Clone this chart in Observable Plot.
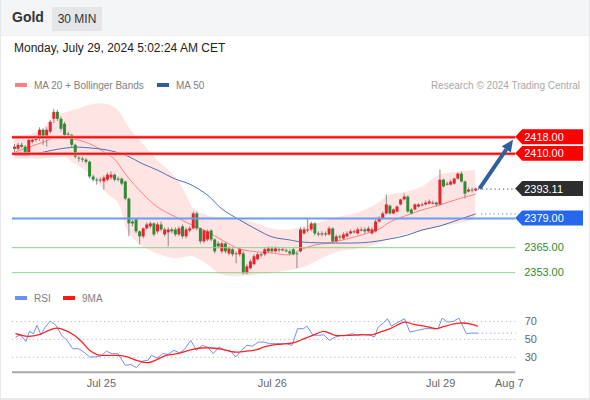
<!DOCTYPE html>
<html>
<head>
<meta charset="utf-8">
<script src="https://cdn.jsdelivr.net/npm/d3@7"></script>
<script src="https://cdn.jsdelivr.net/npm/@observablehq/plot@0.6"></script>
<style>
  html, body { margin: 0; padding: 0; background: #fff; }
  body { font-family: "Liberation Sans", Arial, sans-serif; }
  #wrap { position: relative; width: 590px; height: 400px; overflow: hidden; background: #fff; box-sizing: border-box; border-left: 1px solid #e8e8e8; border-right: 1px solid #e8e8e8; border-bottom: 2px solid #e8e8e8; }
  #header { position: absolute; left: 0; top: 0; width: 590px; height: 35px; background: #f4f5f6; border-bottom: 1px solid #eceeef; }
  #title { position: absolute; left: 11px; top: 9px; font-size: 14px; font-weight: bold; color: #333; }
  #period { position: absolute; left: 51px; top: 7px; width: 50px; height: 24px; background: #e4e6e8; color: #333; font-size: 12px; line-height: 24px; text-align: center; }
  #date { position: absolute; left: 13px; top: 41px; font-size: 12px; color: #222; }
  .legend { position: absolute; font-size: 10px; color: #808080; white-space: nowrap; }
  .sw { display: inline-block; width: 12px; height: 4px; vertical-align: middle; margin-right: 7px; position: relative; top: -1px; }
  #research { position: absolute; right: 9px; top: 80px; font-size: 10px; color: #a8a8a8; }
  #main { position: absolute; left: 0; top: 95px; }
  #rsi { position: absolute; left: 0; top: 310px; }
</style>
</head>
<body>
<div id="wrap">
  <div id="header"></div>
  <div id="title">Gold</div>
  <div id="period">30 MIN</div>
  <div id="date">Monday, July 29, 2024 5:02:24 AM CET</div>
  <div class="legend" style="left:14px; top:80px;"><span class="sw" style="background:#ff7f7f"></span>MA 20 + Bollinger Bands</div>
  <div class="legend" style="left:156px; top:80px;"><span class="sw" style="background:#2f5d9e"></span>MA 50</div>
  <div id="research">Research © 2024 Trading Central</div>
  <div id="main"></div>
  <div class="legend" style="left:14px; top:293px;"><span class="sw" style="background:#6f8ff0"></span>RSI</div>
  <div class="legend" style="left:62px; top:293px;"><span class="sw" style="background:#ff1a1a"></span>9MA</div>
  <div id="rsi"></div>
</div>
<script>
// ---- Candles (30-minute bars), index 0..129 ----
const candleOpen = [
2412.2,2412.2,2414.1,2413.2,2409.8,2415.6,2416.5,2417.0,2421.3,2417.5,
2420.4,2426.6,2429.9,2426.6,2424.2,2419.4,2418.9,2414.1,2407.9,2407.5,
2407.0,2406.0,2398.9,2397.4,2397.0,2396.5,2397.4,2398.4,2399.8,2397.9,
2397.9,2396.5,2388.3,2377.3,2378.3,2372.6,2370.2,2374.0,2375.0,2376.4,
2372.6,2375.9,2371.1,2372.1,2373.5,2373.5,2371.1,2375.0,2370.2,2373.0,
2374.0,2381.2,2374.0,2367.8,2368.7,2373.0,2368.7,2366.8,2363.0,2366.8,
2362.0,2364.0,2361.6,2361.6,2362.0,2352.5,2354.9,2356.8,2359.2,2361.6,
2361.6,2363.0,2364.4,2363.0,2364.0,2363.5,2363.5,2363.0,2364.0,2362.0,
2363.0,2371.6,2373.0,2373.5,2376.4,2371.6,2371.1,2371.6,2371.1,2374.0,
2367.8,2370.2,2369.2,2370.2,2371.6,2372.1,2371.6,2373.0,2373.5,2372.6,
2371.6,2372.6,2377.3,2378.8,2381.2,2384.9,2381.2,2382.1,2385.5,2387.9,
2389.3,2383.1,2383.1,2384.5,2385.0,2385.5,2385.9,2385.9,2386.4,2385.5,
2397.4,2395.0,2395.0,2395.5,2397.9,2400.3,2396.5,2391.7,2392.6,2392.2];
const candleHigh = [
2414.5,2415.0,2415.2,2414.0,2417.5,2418.0,2418.5,2422.5,2422.0,2422.5,
2426.0,2431.4,2430.9,2427.5,2425.1,2420.4,2419.4,2414.6,2408.9,2408.4,
2407.9,2406.5,2399.8,2398.4,2398.4,2399.4,2400.8,2401.3,2400.3,2398.9,
2398.4,2397.0,2388.8,2378.3,2378.8,2373.0,2374.5,2376.9,2377.3,2376.9,
2376.9,2377.3,2374.5,2374.5,2374.5,2374.5,2375.0,2375.9,2374.5,2375.0,
2382.1,2382.1,2374.5,2373.5,2373.5,2373.5,2369.2,2367.8,2367.8,2367.3,
2365.4,2364.9,2363.0,2364.9,2363.0,2356.8,2359.2,2361.6,2362.5,2362.5,
2364.9,2365.4,2365.4,2365.4,2364.9,2364.9,2364.4,2364.0,2364.9,2363.0,
2374.5,2374.5,2378.8,2377.3,2376.9,2372.6,2372.6,2372.6,2375.0,2374.5,
2371.1,2371.1,2372.1,2372.6,2373.5,2373.5,2374.5,2374.5,2374.5,2375.0,
2374.5,2378.3,2379.8,2382.1,2390.2,2385.5,2383.6,2385.0,2388.3,2390.7,
2389.8,2383.6,2386.0,2386.0,2386.4,2387.4,2387.9,2387.4,2386.9,2402.2,
2397.9,2396.5,2397.4,2398.4,2400.8,2401.3,2397.0,2393.6,2393.6,2393.6];
const candleLow = [
2410.8,2411.5,2412.5,2409.0,2409.3,2414.8,2415.5,2416.0,2414.0,2413.2,
2419.5,2424.5,2425.5,2420.5,2418.0,2417.5,2413.0,2407.5,2406.0,2405.8,
2405.1,2398.0,2396.5,2395.0,2396.0,2392.6,2396.5,2397.4,2396.5,2396.5,
2394.6,2387.5,2370.2,2375.0,2371.6,2366.3,2369.2,2373.5,2374.0,2370.2,
2371.6,2372.6,2370.2,2365.4,2371.6,2370.2,2370.2,2369.2,2369.2,2372.1,
2373.5,2373.0,2366.8,2366.8,2367.8,2367.8,2362.0,2364.4,2362.0,2362.0,
2361.1,2360.6,2357.3,2360.6,2352.0,2352.0,2354.4,2356.3,2358.7,2360.1,
2360.6,2362.5,2362.5,2362.5,2362.5,2363.0,2362.5,2361.1,2361.1,2354.9,
2362.5,2371.1,2372.1,2372.6,2370.6,2370.2,2370.2,2370.2,2370.6,2366.8,
2367.3,2368.7,2368.7,2369.7,2371.1,2371.6,2371.1,2372.6,2371.6,2372.1,
2371.1,2372.1,2376.9,2378.3,2380.7,2380.7,2380.7,2381.6,2385.0,2387.4,
2381.6,2380.7,2382.6,2384.0,2384.5,2385.0,2385.5,2385.5,2384.5,2385.0,
2393.6,2394.6,2394.6,2395.0,2397.4,2396.0,2388.3,2391.2,2391.2,2391.7];
const candleClose = [
2413.2,2414.1,2413.2,2409.8,2416.5,2416.5,2417.0,2421.3,2417.5,2421.3,
2425.1,2429.9,2426.6,2421.8,2418.9,2418.9,2414.1,2408.4,2407.5,2407.0,
2406.0,2398.9,2397.4,2397.0,2397.4,2398.4,2399.8,2399.8,2397.4,2397.4,
2395.5,2388.3,2376.4,2376.4,2372.6,2370.2,2374.0,2375.9,2376.4,2371.1,
2375.9,2373.5,2373.5,2373.5,2372.6,2371.1,2374.0,2370.2,2373.5,2374.0,
2381.2,2374.0,2367.8,2373.0,2372.6,2368.7,2363.0,2365.4,2366.8,2363.0,
2364.4,2361.6,2362.0,2364.0,2352.5,2355.8,2358.2,2360.6,2361.6,2361.1,
2364.0,2364.4,2363.0,2364.4,2363.5,2364.0,2363.0,2362.0,2361.6,2361.6,
2373.5,2373.5,2373.5,2376.4,2371.6,2371.1,2371.6,2371.1,2374.0,2367.8,
2370.2,2369.7,2371.1,2371.6,2372.6,2372.6,2373.5,2373.5,2372.6,2374.0,
2373.5,2377.3,2378.8,2381.2,2385.5,2381.2,2383.1,2384.5,2387.9,2389.3,
2382.1,2381.2,2385.5,2385.5,2385.5,2386.4,2386.9,2386.4,2385.5,2397.4,
2394.1,2395.5,2396.5,2397.9,2400.3,2396.5,2390.7,2392.6,2392.2,2393.11];

// ---- MA 20 + Bollinger Bands (read at bar indices) ----
const bbIdx   = [0,4,8,11,14,17,22,26,29,32,36,40,45,48,50,54,58,63,68,72,77,81,86,91,96,101,105,110,114,119,124,129];
const bbUpper = [2416.5,2418.9,2421.8,2428.0,2429.5,2430.9,2433.7,2433.7,2430.9,2422.8,2414.6,2407.0,2398.9,2390.7,2384.0,2380.2,2379.3,2378.8,2376.4,2374.0,2373.5,2375.0,2377.3,2379.7,2381.5,2385.5,2390.2,2391.7,2394.1,2399.8,2401.2,2402.2];
const bbLower = [2407.5,2407.5,2407.5,2408.0,2408.4,2405.1,2398.9,2390.7,2386.5,2372.0,2365.4,2362.0,2359.7,2360.5,2360.6,2356.8,2352.0,2351.1,2352.0,2352.7,2354.0,2355.5,2359.7,2363.0,2364.4,2366.3,2369.2,2371.6,2372.6,2375.0,2376.4,2378.3];
const ma20Idx = [0,4,8,12,17,22,26,28,31,36,40,45,49,54,58,63,68,72,77,80,84,88,93,97,102,105,110,114,119,124,129];
const ma20Val = [2410.8,2413.2,2415.6,2418.0,2417.0,2414.1,2409.8,2407.5,2400.3,2390.7,2384.5,2379.8,2376.4,2372.6,2368.7,2364.4,2363.0,2362.5,2361.6,2364.0,2366.3,2367.3,2369.2,2371.1,2374.0,2377.3,2380.7,2383.1,2385.5,2388.3,2390.7];
// ---- MA 50 ----
const ma50Idx = [0,4,8,12,17,22,26,31,36,40,45,49,54,58,63,68,72,77,80,86,96,100,105,110,114,119,124,129];
const ma50Val = [2409.4,2409.4,2410.8,2412.2,2413.2,2412.7,2411.8,2409.4,2405.1,2402.2,2397.9,2395.5,2390.2,2383.6,2378.3,2373.5,2370.2,2368.7,2367.8,2367.3,2367.3,2367.8,2369.2,2371.1,2373.5,2375.4,2378.3,2381.2];

// ---- Key levels ----
const resistLevels = [2418.00, 2410.00];
const pivotLevel = 2379.00;
const supportLevels = [2365.00, 2353.00];
const lastPrice = 2393.11;
const targetPrice = 2418.00;

// ---- RSI panel ----
const rsiIdx = [0.4,1.6,3.2,4.2,5.3,6.3,7.4,8.4,10.0,11.6,13.2,14.7,16.3,17.9,19.4,21.0,22.6,24.2,25.7,27.3,28.9,31.0,32.5,34.1,35.7,37.3,38.3,39.9,41.5,43.0,44.6,46.2,47.7,49.3,50.9,52.5,54.0,55.6,57.2,58.8,60.3,61.9,63.5,65.0,66.6,68.2,69.8,71.3,72.9,74.5,76.1,77.6,79.2,80.8,81.8,83.4,85.0,86.5,88.1,89.7,91.3,92.8,94.4,96.0,97.5,99.1,100.7,101.7,103.3,104.3,105.4,107.0,109.1,110.6,112.7,114.8,116.9,118.5,119.6,121.1,122.7,124.3,126.4,127.9,129.5];
const rsiVal = [52.6,55.2,47.8,58.9,56.3,65.6,55.2,62.6,70.4,65.6,54.4,48.9,39.6,39.6,35.9,30.4,30.4,31.5,36.7,34.1,34.1,21.1,21.9,18.5,25.6,26.7,32.2,29.3,34.1,33.3,37.8,34.8,39.6,48.9,37.8,43.3,41.5,34.1,41.5,37.8,37.8,30.4,37.8,43.3,42.6,47.0,47.0,45.2,45.2,45.2,45.2,43.3,61.9,61.9,64.8,55.2,54.4,55.2,48.9,52.6,54.4,54.4,56.3,54.4,55.2,55.2,52.6,63.7,68.5,73.0,64.8,68.5,73.0,58.1,60.0,61.9,61.9,61.9,73.7,69.3,70.0,73.7,56.3,57.0,57.0];
const ma9Idx = [0.4,3.7,6.9,10.0,12.1,14.2,16.8,18.9,21.0,23.1,25.2,27.8,31.0,34.1,37.3,39.4,42.5,45.7,48.8,52.0,55.1,58.2,61.4,64.5,67.7,69.8,72.9,76.1,78.1,80.3,83.4,86.5,89.7,92.8,97.0,100.2,102.2,105.4,109.1,111.7,115.9,118.0,120.1,124.3,127.4,129.5];
const ma9Val = [56.3,53.3,55.2,60.7,62.6,60.0,54.4,47.0,37.8,33.0,32.2,32.2,31.1,26.7,24.1,26.7,32.2,34.1,37.8,40.4,40.4,38.9,35.9,36.7,38.5,41.5,44.1,45.2,46.3,49.6,54.4,58.9,54.4,54.4,55.2,55.2,58.1,62.6,69.3,66.7,63.7,61.9,64.4,68.1,67.4,64.8];
const rsiGrid = [30, 50, 70];

// ---- Time axis ----
const tickIdx = [24.3, 72.1, 119.2, 138.4];
const tickLabels = ["Jul 25", "Jul 26", "Jul 29", "Aug 7"];
const xDomain = [-0.56, 140.2];

// ---- Build tables ----
const candles = candleOpen.map((o, i) => ({i, o, h: candleHigh[i], l: candleLow[i], c: candleClose[i]}));
const bb = bbIdx.map((i, k) => ({i, up: bbUpper[k], lo: bbLower[k]}));
const ma20 = ma20Idx.map((i, k) => ({i, v: ma20Val[k]}));
const ma50 = ma50Idx.map((i, k) => ({i, v: ma50Val[k]}));
const rsi = rsiIdx.map((i, k) => ({i, v: rsiVal[k]}));
const ma9 = ma9Idx.map((i, k) => ({i, v: ma9Val[k]}));
const lastIdx = candles.length - 1;
const lastMa50 = ma50Val[ma50Val.length - 1];
const lastRsi = rsiVal[rsiVal.length - 1];

const RED = "#e8232a", GREEN = "#2f8a35";
const FONT = "Liberation Sans, Arial, sans-serif";

const main = Plot.plot({
  width: 590, height: 185,
  marginLeft: 11, marginRight: 74, marginTop: 0, marginBottom: 3,
  x: {domain: xDomain, axis: null},
  y: {domain: [2351.0, 2438.0], axis: null},
  marks: [
    Plot.areaY(bb, {x: "i", y1: "lo", y2: "up", fill: "#ffd9d9", fillOpacity: 0.7, curve: "catmull-rom"}),
    Plot.line(ma20, {x: "i", y: "v", stroke: "#ff8080", strokeWidth: 1, curve: "catmull-rom"}),
    Plot.line(ma50, {x: "i", y: "v", stroke: "#4a6fb0", strokeWidth: 1, curve: "catmull-rom"}),
    Plot.ruleX(candles, {x: "i", y1: "l", y2: "h", stroke: "#8a8a8a", strokeWidth: 1}),
    Plot.ruleX(candles, {x: "i", y1: "o", y2: "c", stroke: d => d.c >= d.o ? RED : GREEN, strokeWidth: 3}),
    Plot.ruleY(supportLevels, {stroke: "#8fcf8f", strokeWidth: 1}),
    Plot.ruleY([pivotLevel], {stroke: "#6c9bf0", strokeWidth: 2}),
    Plot.ruleY(resistLevels, {stroke: "#ffb0b0", strokeWidth: 3.5}),
    Plot.ruleY(resistLevels, {stroke: "#f01010", strokeWidth: 2}),
    Plot.link([{a: lastIdx + 0.6, b: xDomain[1], p: lastPrice}], {x1: "a", x2: "b", y1: "p", y2: "p", stroke: "#444", strokeDasharray: "1.2,3"}),
    Plot.link([{a: lastIdx + 1.5, b: xDomain[1], p: lastMa50}], {x1: "a", x2: "b", y1: "p", y2: "p", stroke: "#5c7ab8", strokeDasharray: "1.2,3"})
  ]
});
document.getElementById("main").appendChild(main);

// Price tags and forecast arrow, placed with the chart's own scales
(function () {
  const x = main.scale("x"), y = main.scale("y");
  const svg = d3.select(main);
  // arrow: from the last close up toward the target level
  const ax0 = x.apply(lastIdx + 1.2), ay0 = y.apply(lastPrice);
  const ax1 = x.apply(xDomain[1] - 0.6), ay1 = y.apply(targetPrice - 1.4);
  const ang = Math.atan2(ay1 - ay0, ax1 - ax0);
  const hl = 12, hw = 5.5;
  const bx = ax1 - hl * Math.cos(ang), by = ay1 - hl * Math.sin(ang);
  const px = -Math.sin(ang), py = Math.cos(ang);
  svg.append("line").attr("x1", ax0).attr("y1", ay0).attr("x2", bx).attr("y2", by)
    .attr("stroke", "#2f5f9f").attr("stroke-width", 4);
  svg.append("path")
    .attr("d", `M${ax1},${ay1} L${bx + px * hw},${by + py * hw} L${bx - px * hw},${by - py * hw} Z`)
    .attr("fill", "#2f5f9f");

  const tags = [
    {v: resistLevels[0], bg: "#ff0000"},
    {v: resistLevels[1], bg: "#ff0000"},
    {v: lastPrice, bg: "#2d2d2d"},
    {v: pivotLevel, bg: "#2767ee"}
  ];
  const x0 = 516, x1 = 584, h = 15;
  for (const t of tags) {
    const yy = y.apply(t.v);
    svg.append("path")
      .attr("d", `M${x0},${yy} L${x0 + 7},${yy - h / 2} L${x1},${yy - h / 2} L${x1},${yy + h / 2} L${x0 + 7},${yy + h / 2} Z`)
      .attr("fill", t.bg);
    svg.append("text").attr("x", 525).attr("y", yy + 4)
      .attr("text-anchor", "start")
      .attr("fill", "#fff").attr("font-size", 11)
      .attr("font-family", FONT)
      .text(t.v.toFixed(2));
  }
  for (const v of supportLevels) {
    svg.append("text").attr("x", 525).attr("y", y.apply(v) + 4)
      .attr("text-anchor", "start")
      .attr("fill", "#2e8b2e").attr("font-size", 11)
      .attr("font-family", FONT)
      .text(v.toFixed(2));
  }
})();

const rsiPlot = Plot.plot({
  width: 590, height: 82,
  marginLeft: 11, marginRight: 74, marginTop: 0, marginBottom: 20,
  style: {fontFamily: FONT, fontSize: "11px", color: "#777"},
  x: {domain: xDomain, label: null},
  y: {domain: [13.3, 82.2], label: null},
  marks: [
    Plot.ruleY(rsiGrid, {stroke: "#b8b8b8", strokeDasharray: "1.2,3"}),
    Plot.line(rsi, {x: "i", y: "v", stroke: "#7090ee", strokeWidth: 1}),
    Plot.line(ma9, {x: "i", y: "v", stroke: "#ff2222", strokeWidth: 1.3, curve: "catmull-rom"}),
    Plot.link([{a: rsiIdx[rsiIdx.length - 1], b: xDomain[1], v: lastRsi}], {x1: "a", x2: "b", y1: "v", y2: "v", stroke: "#8aa2ee", strokeDasharray: "1.2,3"}),
    Plot.ruleY([13.3], {stroke: "#aaaaaa", strokeWidth: 2}),
    Plot.ruleX(xDomain, {y1: 13.3, y2: 16.5, stroke: "#aaaaaa", strokeWidth: 2, insetBottom: -3}),
    Plot.axisY(rsiGrid, {anchor: "right", label: null, tickSize: 0, tickPadding: 9, textAnchor: "start", fill: "#666", fontSize: 11}),
    Plot.axisX(tickIdx, {anchor: "bottom", label: null, tickSize: 0, tickPadding: 7, tickFormat: (d, k) => tickLabels[k], fill: "#666", fontSize: 11})
  ]
});
document.getElementById("rsi").appendChild(rsiPlot);
</script>
</body>
</html>
